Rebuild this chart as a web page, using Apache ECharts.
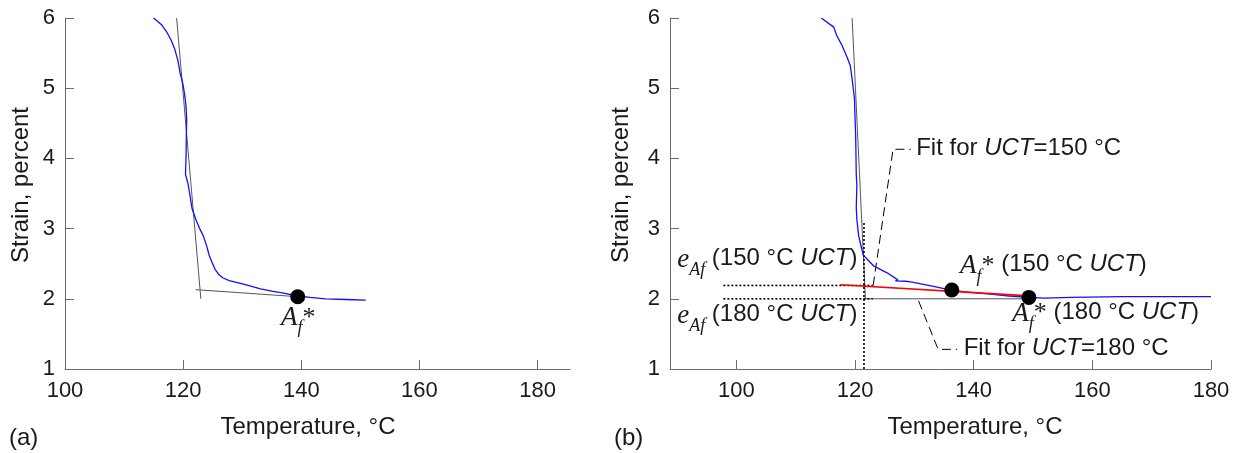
<!DOCTYPE html>
<html>
<head>
<meta charset="utf-8">
<script src="https://cdn.jsdelivr.net/npm/echarts@6/dist/echarts.min.js"></script>
<style>
  html, body { margin: 0; padding: 0; background: #fff; }
  #chart { width: 1239px; height: 453px; }
</style>
</head>
<body>
<div id="chart"></div>
<script>
// ---- Panel (a): strain vs temperature, single UCT ----
const tempA   = [115.0, 116.4, 117.3, 118.0, 118.6, 119.1, 119.5, 119.8, 120.05, 120.3, 120.5, 120.6, 120.55, 120.5, 120.4, 120.8, 121.2, 121.5, 122.2, 122.8, 123.4, 124.0, 124.4, 125.0, 125.4, 126.0, 126.7, 127.8, 129.2, 131.0, 133.1, 135.0, 137.0, 139.3, 141.5, 144.1, 147.5, 150.9];
const strainA = [6.00,  5.90,  5.79,  5.68,  5.55,  5.40,  5.21,  5.12,  5.02,   4.88,  4.73,  4.55,  4.35,   4.05,  3.77,  3.65,  3.45,  3.29,  3.12,  3.00,  2.90,  2.75,  2.62,  2.50,  2.42,  2.35,  2.30,  2.26,  2.23,  2.19,  2.14,  2.11,  2.08,  2.04,  2.02,  2.00,  1.99,  1.98];
const fitA_steepT = [118.9, 123.0];
const fitA_steepS = [6.0, 2.0];
const fitA_flatT  = [122.1, 139.4];
const fitA_flatS  = [2.13, 2.03];
const afA = [139.4, 2.03];

// ---- Panel (b): strain vs temperature, two UCT fits ----
const tempB   = [114.3, 116.4, 116.9, 117.8, 118.6, 119.2, 119.5, 119.9, 120.0, 120.1, 120.2, 120.3, 120.2, 120.3, 120.6, 121.1, 121.4, 123.1, 125.4, 127.2, 126.8, 128.5, 129.4, 133.0, 135.8, 138.5, 142.4, 146.0, 149.3, 152.0, 156.4, 165.0, 180.0];
const strainB = [6.00,  5.87,  5.75,  5.61,  5.45,  5.32,  5.13,  4.85,  4.55,  4.32,  3.77,  3.61,  3.30,  3.13,  2.90,  2.72,  2.62,  2.47,  2.37,  2.27,  2.255, 2.25,  2.24,  2.18,  2.13,  2.10,  2.07,  2.04,  2.02,  2.01,  2.02,  2.03,  2.03];
const fitB_steepT = [119.5, 121.75];
const fitB_steepS = [6.0, 1.99];
const fit150T = [117.5, 148.6];
const fit150S = [2.20, 2.045];
const fit180T = [121.6, 149.3];
const fit180S = [2.00, 2.00];
const af150 = [136.3, 2.125];
const af180 = [149.3, 2.02];
const eAf150 = 2.19;
const eAf180 = 2.00;
const guideT = [97.8, 123.0];
const crossT = 121.5;
const crossS = [1.0, 3.1];
const lead150T = [123.05, 126.4, 129.4];
const lead150S = [2.19, 4.13, 4.13];
const lead180T = [130.7, 134.0, 137.2];
const lead180S = [1.97, 1.28, 1.28];

// Axis ticks and titles
const xTicks = [100, 120, 140, 160, 180];
const xNameText = 'Temperature, °C';
const yNameText = 'Strain, percent';
const panelTags = ['(a)', '(b)'];

// Annotation texts (rich-text markup) and their anchor points
const annoA = [{ t: 139.5, s: 1.68, align: 'center', text: '{it|A}{sub|f}{st|*}' }];
const annoB = [
  { t: 130.3, s: 4.13, align: 'left',  text: '{n|Fit for }{ni|UCT}{n|=150 °C}' },
  { t: 138.3, s: 1.28, align: 'left',  text: '{n|Fit for }{ni|UCT}{n|=180 °C}' },
  { t: 120.4, s: 2.51, align: 'right', text: '{it|e}{sub|Af}{n| (150 °C }{ni|UCT}{n|)}' },
  { t: 120.4, s: 1.72, align: 'right', text: '{it|e}{sub|Af}{n| (180 °C }{ni|UCT}{n|)}' },
  { t: 137.7, s: 2.42, align: 'left',  text: '{it|A}{sub|f}{st|*}{n| (150 °C }{ni|UCT}{n|)}' },
  { t: 146.5, s: 1.74, align: 'left',  text: '{it|A}{sub|f}{st|*}{n| (180 °C }{ni|UCT}{n|)}' }
];

const zip = (xs, ys) => xs.map((x, i) => [x, ys[i]]);
const SANS = '"Liberation Sans", Arial, sans-serif';
const SERIF = '"Liberation Serif", "Times New Roman", serif';
const AXIS_COLOR = '#6b6b6b';
const TEXT_COLOR = '#1a1a1a';

const rich = {
  n:   { fontFamily: SANS, fontSize: 24, color: TEXT_COLOR, verticalAlign: 'top', lineHeight: 26 },
  ni:  { fontFamily: SANS, fontSize: 24, fontStyle: 'italic', color: TEXT_COLOR, verticalAlign: 'top', lineHeight: 26 },
  it:  { fontFamily: SERIF, fontSize: 27, fontStyle: 'italic', color: TEXT_COLOR, verticalAlign: 'top', lineHeight: 26 },
  st:  { fontFamily: SERIF, fontSize: 26, color: TEXT_COLOR, verticalAlign: 'top', lineHeight: 26 },
  sub: { fontFamily: SERIF, fontSize: 18, fontStyle: 'italic', color: TEXT_COLOR, verticalAlign: 'bottom', padding: [15, 0, 0, 0] }
};

function xAxisDef(gridIndex, min, max) {
  return {
    type: 'value', gridIndex, min, max,
    axisLine: { show: true, onZero: false, lineStyle: { color: AXIS_COLOR, width: 1 } },
    axisTick: { show: true, inside: true, length: 9, customValues: xTicks, lineStyle: { color: AXIS_COLOR } },
    axisLabel: { show: true, margin: 11, customValues: xTicks, fontFamily: SANS, fontSize: 22, color: TEXT_COLOR },
    splitLine: { show: false }
  };
}
function yAxisDef(gridIndex) {
  return {
    type: 'value', gridIndex, min: 1, max: 6, interval: 1,
    axisLine: { show: true, onZero: false, lineStyle: { color: AXIS_COLOR, width: 1 } },
    axisTick: { show: true, inside: true, length: 9, lineStyle: { color: AXIS_COLOR } },
    axisLabel: { show: true, margin: 10, fontFamily: SANS, fontSize: 22, color: TEXT_COLOR },
    splitLine: { show: false }
  };
}

function lineSeries(idx, data, color, width, type) {
  return {
    type: 'line', xAxisIndex: idx, yAxisIndex: idx, data,
    showSymbol: false, symbol: 'none', silent: true, animation: false,
    lineStyle: { color, width, type: type || 'solid' }, z: 2
  };
}
function dotSeries(idx, pts) {
  return {
    type: 'scatter', xAxisIndex: idx, yAxisIndex: idx, data: pts,
    symbol: 'circle', symbolSize: 15, silent: true, animation: false,
    itemStyle: { color: '#000000', opacity: 1 }, z: 5
  };
}
function textSeries(idx, list) {
  return {
    type: 'scatter', xAxisIndex: idx, yAxisIndex: idx, silent: true, animation: false,
    symbolSize: 1, itemStyle: { color: 'rgba(0,0,0,0)' }, z: 6,
    data: list.map(a => ({
      value: [a.t, a.s],
      label: { show: true, position: 'inside', align: a.align, verticalAlign: 'middle', formatter: a.text, rich, opacity: 1 }
    }))
  };
}

const series = [
  // panel (a)
  lineSeries(0, zip(fitA_steepT, fitA_steepS), '#555555', 1),
  lineSeries(0, zip(fitA_flatT, fitA_flatS), '#555555', 1),
  lineSeries(0, zip(tempA, strainA), '#1010ff', 1.3),
  dotSeries(0, [afA]),
  textSeries(0, annoA),
  // panel (b)
  lineSeries(1, zip(fitB_steepT, fitB_steepS), '#555555', 1),
  lineSeries(1, zip(fit180T, fit180S), '#555555', 1),
  lineSeries(1, zip(guideT, [eAf150, eAf150]), '#000000', 1.6, [2, 2]),
  lineSeries(1, zip(guideT, [eAf180, eAf180]), '#000000', 1.6, [2, 2]),
  lineSeries(1, zip([crossT, crossT], crossS), '#000000', 1.6, [2, 2]),
  lineSeries(1, zip(lead150T, lead150S), '#000000', 1, [9, 5]),
  lineSeries(1, zip(lead180T, lead180S), '#000000', 1, [9, 5]),
  lineSeries(1, zip(tempB, strainB), '#1010ff', 1.3),
  lineSeries(1, zip(fit150T, fit150S), '#ff0000', 1.6),
  dotSeries(1, [af150, af180]),
  textSeries(1, annoB)
];

function titleText(x, y, text, rotate) {
  return {
    type: 'text', x, y, rotation: rotate ? Math.PI / 2 : 0, silent: true,
    style: { text, font: '24px ' + SANS, fill: TEXT_COLOR, align: 'center', verticalAlign: 'middle' }
  };
}

const chart = echarts.init(document.getElementById('chart'), null, { renderer: 'canvas' });
chart.setOption({
  animation: false,
  backgroundColor: '#ffffff',
  grid: [
    { left: 65, top: 18, width: 505, height: 351, containLabel: false },
    { left: 670, top: 18, width: 541, height: 351, containLabel: false }
  ],
  xAxis: [xAxisDef(0, 100, 185.5), xAxisDef(1, 88.8, 180)],
  yAxis: [yAxisDef(0), yAxisDef(1)],
  series,
  graphic: [
    titleText(308, 427, xNameText, false),
    titleText(975, 427, xNameText, false),
    titleText(21, 185, yNameText, true),
    titleText(621, 185, yNameText, true),
    { type: 'text', x: 9, y: 438, silent: true, style: { text: panelTags[0], font: '24px ' + SANS, fill: TEXT_COLOR, verticalAlign: 'middle' } },
    { type: 'text', x: 614, y: 438, silent: true, style: { text: panelTags[1], font: '24px ' + SANS, fill: TEXT_COLOR, verticalAlign: 'middle' } }
  ]
});
</script>
</body>
</html>
